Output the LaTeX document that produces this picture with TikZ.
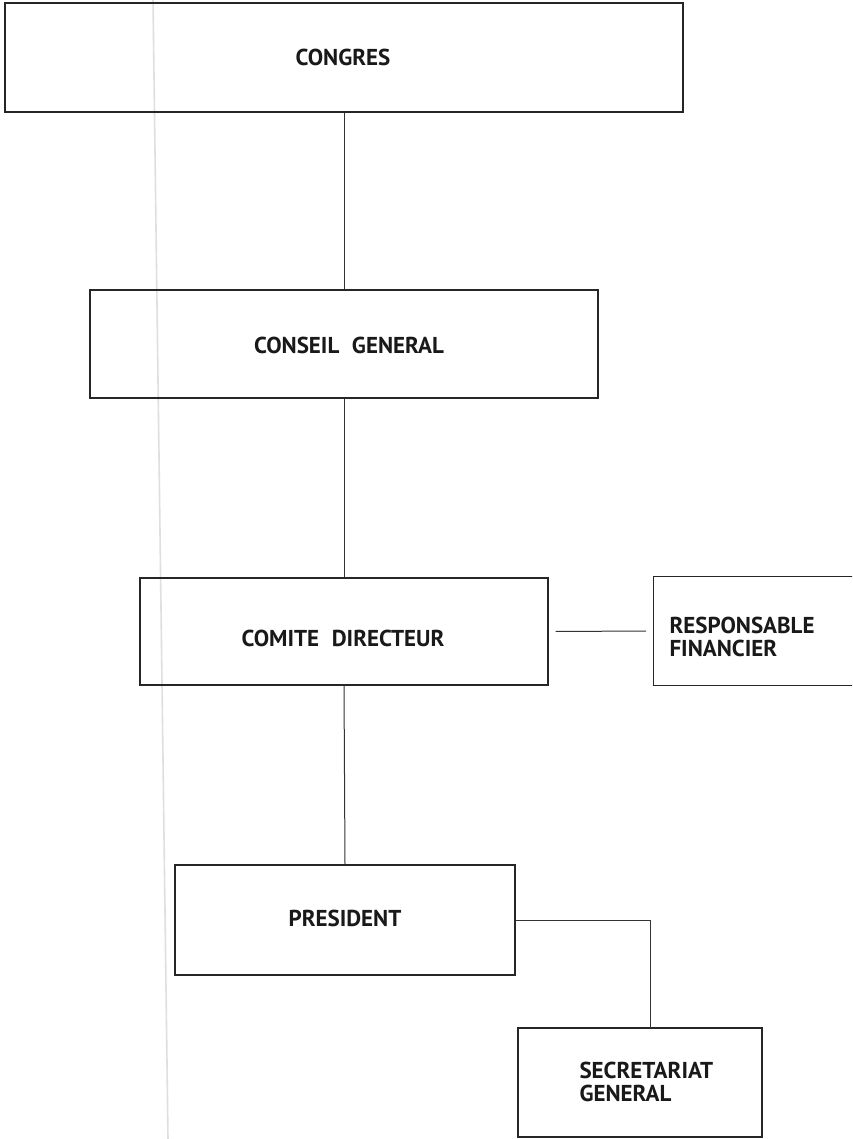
\documentclass[tikz,border=0pt]{standalone}
\usepackage{fontspec}
\setmainfont{PT Sans}
\begin{document}
\begin{tikzpicture}[x=1pt,y=-1pt,
  box/.style={draw=black!85, line width=1.1pt, rectangle, inner sep=0pt},
  lbl/.style={font=\bfseries\fontsize{23}{23}\selectfont, align=left, text=black!90},
  link/.style={draw=black!80, line width=1pt}]
\clip (0,0) rectangle (852,1139);
\fill[white] (0,0) rectangle (852,1139);
% scan fold line
\draw[gray!25, line width=1.6pt] (153,0) -- (168,1139);
\node[box, minimum width=678, minimum height=109] (congres) at (344,57.5) {};
\node[lbl] (tcongres) at (343,57.5) {CONGRES};
\node[box, minimum width=508, minimum height=108] (conseil) at (344,344) {};
\node[lbl] (tconseil) at (349,345) {CONSEIL\hspace{0.55em}GENERAL};
\node[box, minimum width=408, minimum height=107] (comite) at (344,631.5) {};
\node[lbl] (tcomite) at (343,638) {COMITE\hspace{0.55em}DIRECTEUR};
\node[box, minimum width=260, minimum height=109, anchor=west] (resp) at (653,631) {};
\node[lbl, anchor=west] (tresp) at (666,637) {RESPONSABLE\\FINANCIER};
\node[box, minimum width=340, minimum height=110] (president) at (345,920) {};
\node[lbl] (tpresident) at (345,918) {PRESIDENT};
\node[box, minimum width=244, minimum height=109] (secretariat) at (640,1082.5) {};
\node[lbl, anchor=west] (tsecretariat) at (576,1082) {SECRETARIAT\\GENERAL};
\coordinate (sgtop) at (650,1028);
% connectors
\draw[link] (congres.south) -- (conseil.north);
\draw[link] (conseil.south) -- (comite.north);
\draw[link] (comite.south) -- (president.north);
\draw[link, shorten <=7pt, shorten >=7pt] (comite.east) -- (resp.west);
\draw[link] (president.east) -| (sgtop);
\end{tikzpicture}
\end{document}
